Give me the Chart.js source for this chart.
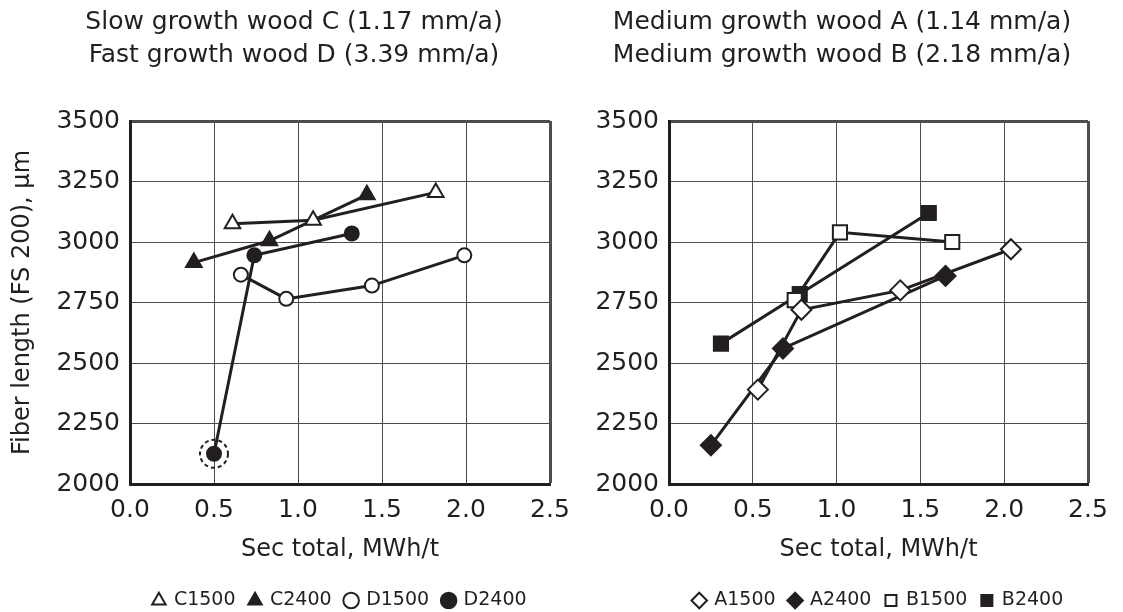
<!DOCTYPE html>
<html>
<head>
<meta charset="utf-8">
<script src="https://cdn.jsdelivr.net/npm/chart.js@4.4.1/dist/chart.umd.min.js"></script>
<style>
  html, body { margin: 0; padding: 0; background: #fff; }
  #wrap { position: relative; width: 1123px; height: 612px; overflow: hidden; }
  canvas { position: absolute; top: 0; }
  #canvas-left { left: 0; }
  #canvas-right { left: 561px; }
</style>
</head>
<body>
<div id="wrap">
  <canvas id="canvas-left" width="588" height="612"></canvas>
  <canvas id="canvas-right" width="562" height="612"></canvas>
</div>
<script>
// left panel: wood C and D
const c1500X = [0.61, 1.09, 1.82]
const c1500Y = [3075, 3090, 3205]
const c2400X = [0.38, 0.83, 1.41]
const c2400Y = [2915, 3005, 3195]
const d1500X = [0.66, 0.93, 1.44, 1.99]
const d1500Y = [2865, 2765, 2820, 2945]
const d2400X = [0.50, 0.74, 1.32]
const d2400Y = [2125, 2945, 3035]

// dashed ring round the odd D2400 point
const ringX = [0.50]
const ringY = [2125]

// right panel: wood A and B
const a1500X = [0.53, 0.79, 1.38, 2.04]
const a1500Y = [2390, 2720, 2800, 2970]
const a2400X = [0.25, 0.68, 1.65]
const a2400Y = [2160, 2560, 2860]
const b1500X = [0.75, 1.02, 1.69]
const b1500Y = [2760, 3040, 3000]
const b2400X = [0.31, 0.78, 1.55]
const b2400Y = [2580, 2785, 3120]

const xTickValues = [0.0, 0.5, 1.0, 1.5, 2.0, 2.5]
const yTickValues = [2000, 2250, 2500, 2750, 3000, 3250, 3500]

const ink = '#231f20'
Chart.defaults.font.family = "'DejaVu Sans', Verdana, sans-serif"
Chart.defaults.color = ink

const pts = (xs, ys) => xs.map((x, i) => ({x: x, y: ys[i]}))

function series(label, xs, ys, style, filled, radius) {
  return {
    label: label,
    data: pts(xs, ys),
    showLine: true,
    borderColor: ink,
    borderWidth: 3,
    pointStyle: style,
    pointRadius: radius,
    pointHoverRadius: radius,
    pointBackgroundColor: filled ? ink : '#fff',
    pointBorderColor: ink,
    pointBorderWidth: 2
  }
}

const dashedRing = {
  id: 'dashedRing',
  afterDatasetsDraw(chart) {
    const {ctx, scales: {x, y}} = chart
    ctx.save()
    ctx.setLineDash([4, 3])
    ctx.lineWidth = 2
    ctx.strokeStyle = ink
    ringX.forEach((v, i) => {
      ctx.beginPath()
      ctx.arc(x.getPixelForValue(v), y.getPixelForValue(ringY[i]), 14, 0, Math.PI * 2)
      ctx.stroke()
    })
    ctx.restore()
  }
}

function panelOptions(titleLines, yTitle, yAxisWidth, rightGap) {
  return {
    responsive: false,
    animation: false,
    events: [],
    layout: { padding: { left: 0, right: 0, top: 0, bottom: -8 } },
    plugins: {
      title: {
        display: true,
        text: titleLines,
        color: ink,
        font: { size: 25, weight: 'normal', lineHeight: 1.32 },
        padding: { top: 6, bottom: 49 }
      },
      legend: {
        position: 'bottom',
        fullSize: false,
        labels: {
          usePointStyle: true,
          boxWidth: 11,
          boxHeight: 11,
          padding: 14,
          color: ink,
          font: { size: 19 }
        }
      },
      tooltip: { enabled: false }
    },
    scales: {
      x: {
        type: 'linear',
        min: 0,
        max: 2.5,
        afterBuildTicks: s => { s.ticks = xTickValues.map(v => ({value: v})) },
        afterFit: s => { s.height = 93; s.paddingLeft = 0; s.paddingRight = rightGap },
        ticks: { padding: 11, color: ink, font: { size: 25 }, callback: v => v.toFixed(1) },
        grid: { color: '#4d4d4d', lineWidth: c => c.index === xTickValues.length - 1 ? 3 : 1, drawTicks: false },
        border: { color: ink, width: 3 },
        title: { display: true, text: 'Sec total, MWh/t', color: ink, font: { size: 24 }, padding: { top: 0, bottom: 13 } }
      },
      y: {
        type: 'linear',
        min: 2000,
        max: 3500,
        afterBuildTicks: s => { s.ticks = yTickValues.map(v => ({value: v})) },
        afterFit: s => { s.width = yAxisWidth; s.paddingTop = 0; s.paddingBottom = 0 },
        ticks: { padding: 10, color: ink, font: { size: 25 }, callback: v => String(v) },
        grid: { color: '#4d4d4d', lineWidth: c => c.index === yTickValues.length - 1 ? 3 : 1, drawTicks: false },
        border: { color: ink, width: 3 },
        title: { display: !!yTitle, text: yTitle, color: ink, font: { size: 24 }, padding: { top: 8, bottom: 0 } }
      }
    }
  }
}

// eslint-disable-next-line no-unused-vars
const leftChart = new Chart(document.getElementById('canvas-left'), {
  type: 'scatter',
  data: {
    datasets: [
      series('C1500', c1500X, c1500Y, 'triangle', false, 9),
      series('C2400', c2400X, c2400Y, 'triangle', true, 9),
      series('D1500', d1500X, d1500Y, 'circle', false, 7),
      series('D2400', d2400X, d2400Y, 'circle', true, 7)
    ]
  },
  options: panelOptions(
    ['Slow growth wood C (1.17 mm/a)', 'Fast growth wood D (3.39 mm/a)'],
    'Fiber length (FS 200), µm', 130, 38),
  plugins: [dashedRing]
})

// eslint-disable-next-line no-unused-vars
const rightChart = new Chart(document.getElementById('canvas-right'), {
  type: 'scatter',
  data: {
    datasets: [
      series('A1500', a1500X, a1500Y, 'rectRot', false, 10),
      series('A2400', a2400X, a2400Y, 'rectRot', true, 10),
      series('B1500', b1500X, b1500Y, 'rect', false, 10),
      series('B2400', b2400X, b2400Y, 'rect', true, 10)
    ]
  },
  options: panelOptions(
    ['Medium growth wood A (1.14 mm/a)', 'Medium growth wood B (2.18 mm/a)'],
    '', 108, 35)
})
</script>
</body>
</html>
